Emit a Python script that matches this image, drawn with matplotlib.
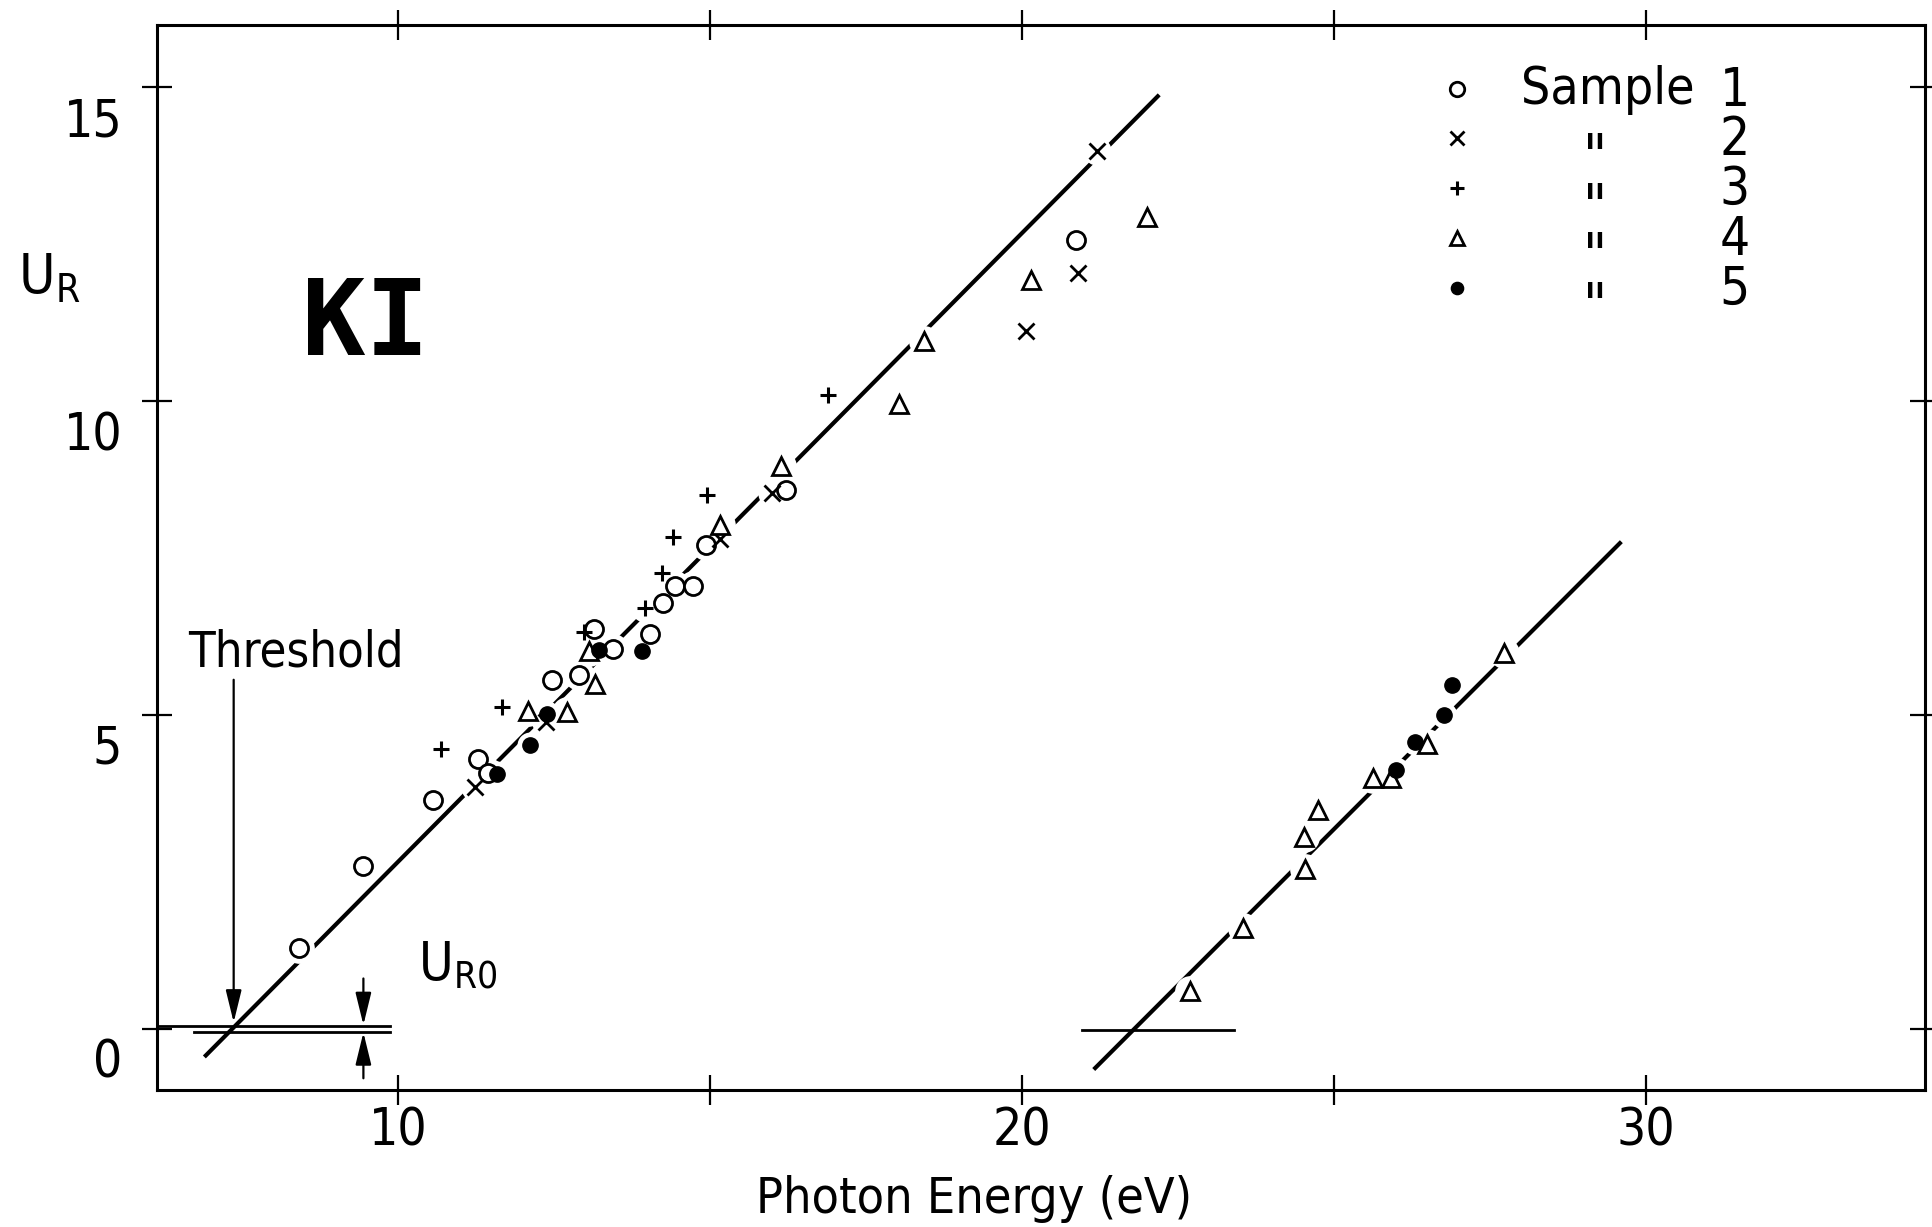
import matplotlib
matplotlib.use('Agg')
import matplotlib.pyplot as plt
from matplotlib.transforms import ScaledTranslation

plt.rcParams['font.family'] = ['DejaVu Sans']
plt.rcParams['font.stretch'] = 'condensed'
plt.rcParams['mathtext.default'] = 'regular'

# photon energy (eV) / U_R readings for each sample
s1_x = [8.40, 9.43, 10.55, 11.27, 11.43, 12.47, 12.90, 13.13, 13.44, 14.03, 14.25, 14.44, 14.73, 14.93, 16.22, 20.86]
s1_y = [1.28, 2.59, 3.65, 4.29, 4.07, 5.55, 5.64, 6.37, 6.05, 6.29, 6.78, 7.06, 7.06, 7.70, 8.59, 12.57]

s2_x = [11.23, 12.37, 15.16, 15.99, 20.06, 20.89, 21.21]
s2_y = [3.85, 4.89, 7.81, 8.53, 11.11, 12.04, 13.98]

s3_x = [10.69, 11.66, 12.97, 13.95, 14.22, 14.41, 14.95, 16.89]
s3_y = [4.46, 5.12, 6.32, 6.70, 7.26, 7.83, 8.50, 10.09]

s4_x = [12.08, 12.71, 13.15, 13.06, 15.15, 16.13, 18.02, 18.43, 20.14, 22.00,
        22.69, 23.54, 24.53, 24.52, 24.75, 25.63, 25.91, 26.50, 27.73]
s4_y = [5.07, 5.04, 5.50, 6.02, 8.03, 8.97, 9.96, 10.96, 11.93, 12.93,
        0.60, 1.60, 2.55, 3.05, 3.48, 4.00, 4.00, 4.54, 5.98]

s5_x = [11.58, 12.11, 12.39, 13.22, 13.90, 26.00, 26.30, 26.76, 26.90]
s5_y = [4.06, 4.52, 5.01, 6.03, 6.02, 4.12, 4.57, 5.00, 5.47]

# hand-drawn straight lines
fit1_x = [6.89, 22.20]
fit1_y = [-0.45, 14.88]
fit2_x = [21.15, 29.61]
fit2_y = [-0.65, 7.76]

# zero levels
zero1a_x = [6.13, 9.87]
zero1a_y = [0.05, 0.05]
zero1b_x = [6.73, 9.87]
zero1b_y = [-0.05, -0.05]
zero2_x = [20.96, 23.40]
zero2_y = [-0.02, -0.02]

xticks = [10, 15, 20, 25, 30]
xticklabels = ['10', '', '20', '', '30']
yticks = [0, 5, 10, 15]
yticklabels = ['0', '5', '10', '15']

legend_title = 'Sample'
legend_ditto = '"'
legend_nums = ['1', '2', '3', '4', '5']
legend_rows = [14.98, 14.19, 13.39, 12.60, 11.80]

samples = [(s1_x, s1_y), (s2_x, s2_y), (s3_x, s3_y), (s4_x, s4_y), (s5_x, s5_y)]
styles = [
    dict(marker='o', ms=13, mfc='white', mec='black', mew=2.0),
    dict(marker='x', ms=12, mec='black', mew=2.0),
    dict(marker='+', ms=12, mec='black', mew=2.2),
    dict(marker='^', ms=13, mfc='white', mec='black', mew=2.0),
    dict(marker='o', ms=11, mfc='black', mec='black', mew=1.0),
]

fig = plt.figure(figsize=(19.33, 12.27), dpi=100)
ax = fig.add_axes([0.0812, 0.112, 0.9147, 0.868])

ax.plot(fit1_x, fit1_y, color='black', lw=3.0, zorder=1, solid_capstyle='butt')
ax.plot(fit2_x, fit2_y, color='black', lw=3.0, zorder=1, solid_capstyle='butt')
for zx, zy in [(zero1a_x, zero1a_y), (zero1b_x, zero1b_y), (zero2_x, zero2_y)]:
    ax.plot(zx, zy, color='black', lw=2.0, zorder=1)

# white halo under every point so the line breaks around it, like the drawing
for (x, y), st in zip(samples, styles):
    ax.plot(x, y, ls='none', marker='o', ms=st['ms'] * 1.7, mfc='white', mec='none', zorder=2)
    ax.plot(x, y, ls='none', zorder=3, **st)

# legend drawn by hand
for i, st in enumerate(styles):
    s = dict(st)
    s['ms'] = st['ms'] * 0.8
    ax.plot([26.98], [legend_rows[i]], ls='none', zorder=3, **s)
    ax.text(31.43, legend_rows[i] - 0.27, legend_nums[i], fontsize=38, ha='center', va='baseline')
ax.text(29.40, legend_rows[0] - 0.25, legend_title, fontsize=37, ha='center', va='baseline')
# ditto marks as one block of lines so they keep the row spacing
# (baseline alignment of a multi-line text refers to its last line)
ax.text(29.19, legend_rows[-1] - 0.59, '\n'.join([legend_ditto] * 4), fontsize=42,
        ha='center', va='baseline', linespacing=0.84)

ax.text(9.47, 10.74, 'KI', family='DejaVu Sans Mono', fontweight='bold', fontsize=76,
        ha='center', va='baseline')
ax.text(8.36, 5.77, 'Threshold', fontsize=35, ha='center', va='baseline')
ax.text(10.31, 0.77, r'$\mathregular{U_{R0}}$', fontsize=38, ha='left', va='baseline')

arrow = dict(arrowstyle='-|>,head_length=0.9,head_width=0.22', lw=1.6, color='black',
             mutation_scale=22, shrinkA=0, shrinkB=0)
ax.annotate('', xy=(7.36, 0.10), xytext=(7.36, 5.56), arrowprops=arrow)
ax.annotate('', xy=(9.44, 0.06), xytext=(9.44, 0.80), arrowprops=arrow)
ax.annotate('', xy=(9.44, -0.06), xytext=(9.44, -0.79), arrowprops=arrow)

ax.set_xlim(6.13, 34.48)
ax.set_ylim(-0.97, 16.0)
ax.set_xticks(xticks)
ax.set_xticklabels(xticklabels)
ax.set_yticks(yticks)
ax.set_yticklabels(yticklabels)

ax.tick_params(direction='inout', length=22, width=1.6, labelsize=37,
               top=True, right=True)
ax.tick_params(axis='x', pad=1)
ax.tick_params(axis='y', pad=14)
# y labels sit a little below their ticks in the drawing
shift = ScaledTranslation(0, -0.10, fig.dpi_scale_trans)
for lab in ax.get_yticklabels():
    lab.set_va('top')
    lab.set_transform(lab.get_transform() + shift)
for sp in ax.spines.values():
    sp.set_linewidth(2.2)

ax.set_xlabel('Photon Energy (eV)', fontsize=36)
ax.xaxis.label.set_va('baseline')
ax.xaxis.set_label_coords(0.462, -0.1158)

fig.text(0.0093, 0.761, r'$\mathregular{U_R}$', fontsize=40, ha='left', va='baseline')

fig.savefig('out.png', dpi=100)
